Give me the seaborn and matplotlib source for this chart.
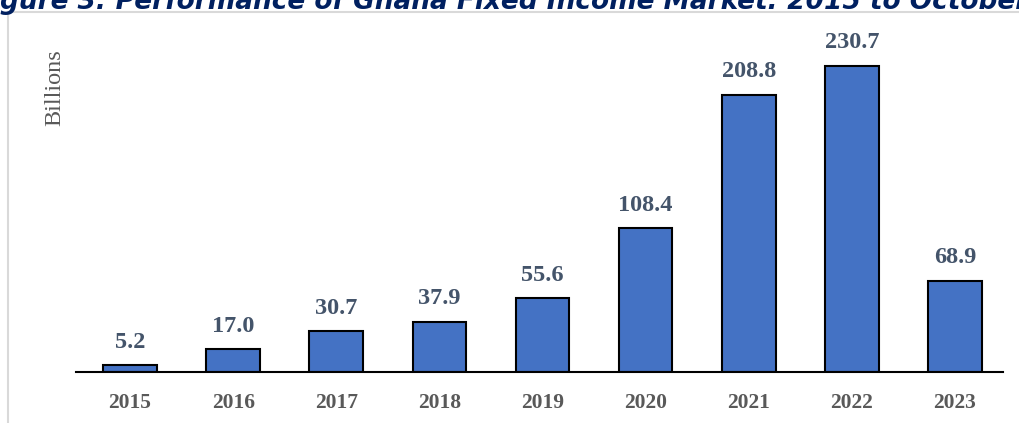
import matplotlib
matplotlib.use("Agg")
import matplotlib.pyplot as plt
import seaborn as sns
import pandas as pd
from matplotlib.lines import Line2D

# Data
years = ["2015", "2016", "2017", "2018", "2019", "2020", "2021", "2022", "2023"]
values = [5.2, 17.0, 30.7, 37.9, 55.6, 108.4, 208.8, 230.7, 68.9]

title = "Figure 3: Performance of Ghana Fixed Income Market: 2015 to October 2023"
ylabel = "Billions"

df = pd.DataFrame({"year": years, "value": values})

sns.set_theme(style="white")
plt.rcParams["font.family"] = ["Liberation Serif", "DejaVu Serif"]

W, H = 1019, 423
fig = plt.figure(figsize=(W / 100, H / 100), dpi=100)
ax = fig.add_axes([76 / W, 51 / H, (1003 - 76) / W, (372 - 40) / H])

sns.barplot(data=df, x="year", y="value", color="#4472C4", width=0.52,
            edgecolor="black", linewidth=1.5, saturation=1, ax=ax)

ax.set_xlim(-0.524, 8.466)
ax.set_ylim(0, 250)
ax.set_xlabel("")
ax.set_ylabel("")
ax.set_yticks([])
for s in ["top", "right", "left"]:
    ax.spines[s].set_visible(False)
ax.spines["bottom"].set_color("black")
ax.spines["bottom"].set_linewidth(1.5)
ax.tick_params(axis="x", length=0, pad=15, labelsize=15.5, labelcolor="#595959")
for lab in ax.get_xticklabels():
    lab.set_fontweight("bold")

# value labels above each bar
for i, v in enumerate(values):
    ax.annotate(f"{v:.1f}", (i, v), xytext=(0, 9), textcoords="offset points",
                ha="center", va="bottom", fontsize=17.5, fontweight="bold",
                color="#44546A")

fig.text(55 / W, 1 - 88 / H, ylabel, rotation=90, ha="center", va="center",
         fontsize=17.5, color="#595959")

# light frame around the chart area
fig.add_artist(Line2D([8 / W, 1], [1 - 12 / H, 1 - 12 / H], color="#D9D9D9", lw=1.5,
                      transform=fig.transFigure))
fig.add_artist(Line2D([8 / W, 8 / W], [0, 1 - 12 / H], color="#D9D9D9", lw=1.5,
                      transform=fig.transFigure))

# title, clipped at the top edge as in the source
fig.text(-27 / W, 1 - 9 / H, title, ha="left", va="baseline", fontsize=19,
         fontweight="bold", fontstyle="italic", color="#002060",
         family=["DejaVu Sans"])

fig.savefig("out.png", dpi=100)
